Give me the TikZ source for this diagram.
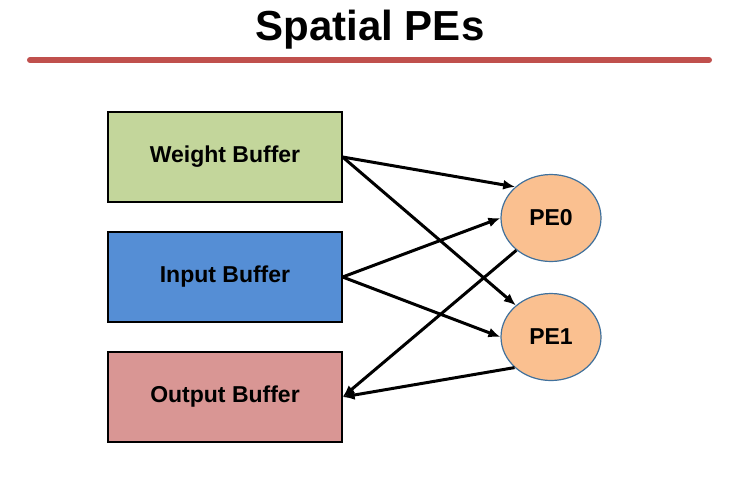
\documentclass[tikz,border=0pt]{standalone}
\usepackage{fontspec}
\setmainfont{Liberation Sans}
\usepackage{tikz}
\usetikzlibrary{shapes.geometric, arrows.meta}

\definecolor{wgtgreen}{HTML}{C3D69B}
\definecolor{inpblue}{HTML}{558ED5}
\definecolor{outpink}{HTML}{D99694}
\definecolor{pefill}{HTML}{FAC090}
\definecolor{peedge}{HTML}{41719C}
\definecolor{titlered}{HTML}{C0504D}

\tikzset{
	buffer/.style={draw=black, line width=1.2pt, minimum width=234pt, minimum height=90pt,
		inner sep=0pt, font=\bfseries\fontsize{23}{26}\selectfont},
	pe/.style={ellipse, draw=peedge, line width=1.2pt, fill=pefill, minimum width=100pt,
		minimum height=87pt, inner sep=0pt, font=\bfseries\fontsize{23}{26}\selectfont},
	wire/.style={line width=3pt, -{Latex[length=12pt, width=10pt]}}
}

\begin{document}
\begin{tikzpicture}[x=1pt, y=-1pt]
	\useasboundingbox (0, 0) rectangle (741, 483);
	% Title and rule:
	\node[font=\bfseries\fontsize{42}{46}\selectfont] (title) at (370, 30) {Spatial PEs};
	\coordinate (ruleL) at (30, 60);
	\coordinate (ruleR) at (709, 60);
	\draw[titlered, line width=6pt, line cap=round] (ruleL) -- (ruleR);
	% Buffers:
	\node[buffer, fill=wgtgreen] (wgt) at (225, 157) {Weight Buffer};
	\node[buffer, fill=inpblue] (inp) at (225, 277) {Input Buffer};
	\node[buffer, fill=outpink] (out) at (225, 397) {Output Buffer};
	% PEs:
	\node[pe] (pe0) at (551, 218) {PE0};
	\node[pe] (pe1) at (551, 337) {PE1};
	% Wires:
	\draw[wire] (wgt.east) -- (pe0.139);
	\draw[wire] (wgt.east) -- (pe1.138);
	\draw[wire] (inp.east) -- (pe0.west);
	\draw[wire] (inp.east) -- (pe1.west);
	\draw[wire] (pe0.223) -- (out.east);
	\draw[wire] (pe1.220) -- (out.east);
\end{tikzpicture}
\end{document}
